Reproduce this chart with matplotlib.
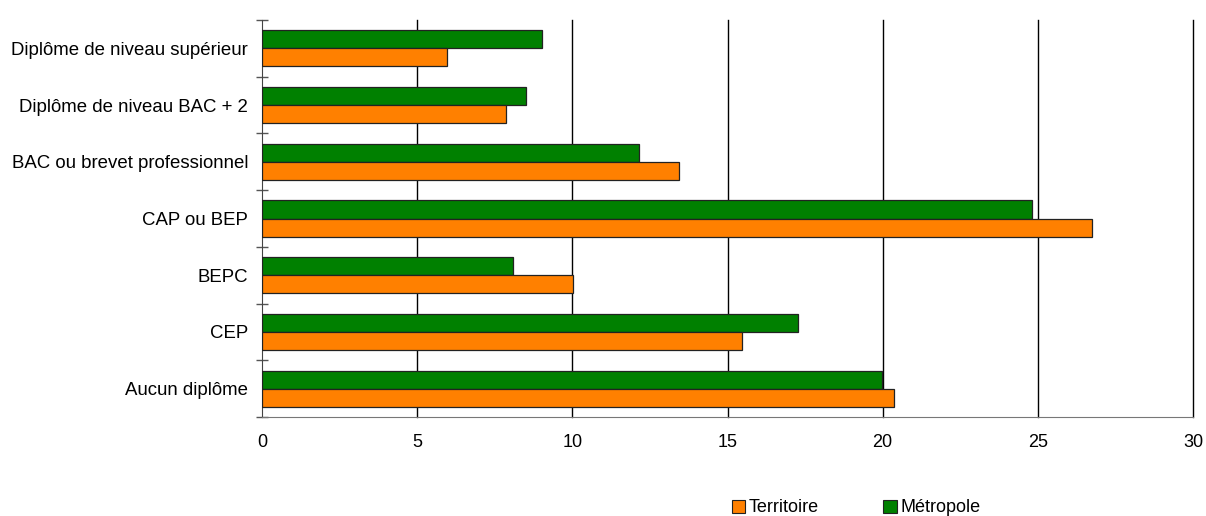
import numpy as np
import matplotlib.pyplot as plt
from matplotlib.patches import Patch

plt.rcParams['font.family'] = ['Liberation Sans', 'DejaVu Sans']

# categories listed bottom to top
categories = ['Aucun diplôme', 'CEP', 'BEPC', 'CAP ou BEP',
              'BAC ou brevet professionnel', 'Diplôme de niveau BAC + 2',
              'Diplôme de niveau supérieur']
territoire = [20.35, 15.48, 10.03, 26.75, 13.45, 7.87, 5.97]
metropole = [19.97, 17.27, 8.1, 24.8, 12.16, 8.5, 9.03]
x_ticks = [0, 5, 10, 15, 20, 25, 30]

C_TERR = '#FF8000'
C_METRO = '#008000'

fig = plt.figure(figsize=(12.06, 5.16), dpi=100)
ax = fig.add_axes([262 / 1206, 1 - 417 / 516, (1193 - 262) / 1206, (417 - 20) / 516])

y = np.arange(len(categories))
h = 0.318
ax.barh(y + h / 2, metropole, height=h, color=C_METRO, edgecolor='#222222', linewidth=0.9, zorder=3)
ax.barh(y - h / 2, territoire, height=h, color=C_TERR, edgecolor='#222222', linewidth=0.9, zorder=3)

ax.set_xlim(0, 30)
ax.set_ylim(-0.5, len(categories) - 0.5)
ax.set_xticks(x_ticks)
for xv in x_ticks[1:]:
    ax.axvline(xv, color='black', linewidth=1.0, zorder=0, clip_on=False)
ax.tick_params(axis='x', length=0, pad=12, labelsize=13)

ax.set_yticks(y)
ax.set_yticklabels(categories, fontsize=13.4)
ax.tick_params(axis='y', length=0, pad=10)
ax.set_yticks(np.arange(-0.5, len(categories)), minor=True)
ax.tick_params(axis='y', which='minor', length=9, direction='inout', color='#555555', width=1)

for s in ['top', 'right']:
    ax.spines[s].set_visible(False)
ax.spines['left'].set_color('#444444')
ax.spines['bottom'].set_color('#777777')

handles = [Patch(facecolor=C_TERR, edgecolor='#222222', linewidth=0.8, label='Territoire'),
           Patch(facecolor=C_METRO, edgecolor='#222222', linewidth=0.8, label='Métropole')]
fig.legend(handles=handles, loc='center', bbox_to_anchor=(0.710, 1 - 508 / 516), ncol=2,
           frameon=False, fontsize=13, handlelength=0.75, handleheight=0.75,
           handletextpad=0.2, columnspacing=3.55, borderpad=0)

fig.savefig('out.png', dpi=100)
